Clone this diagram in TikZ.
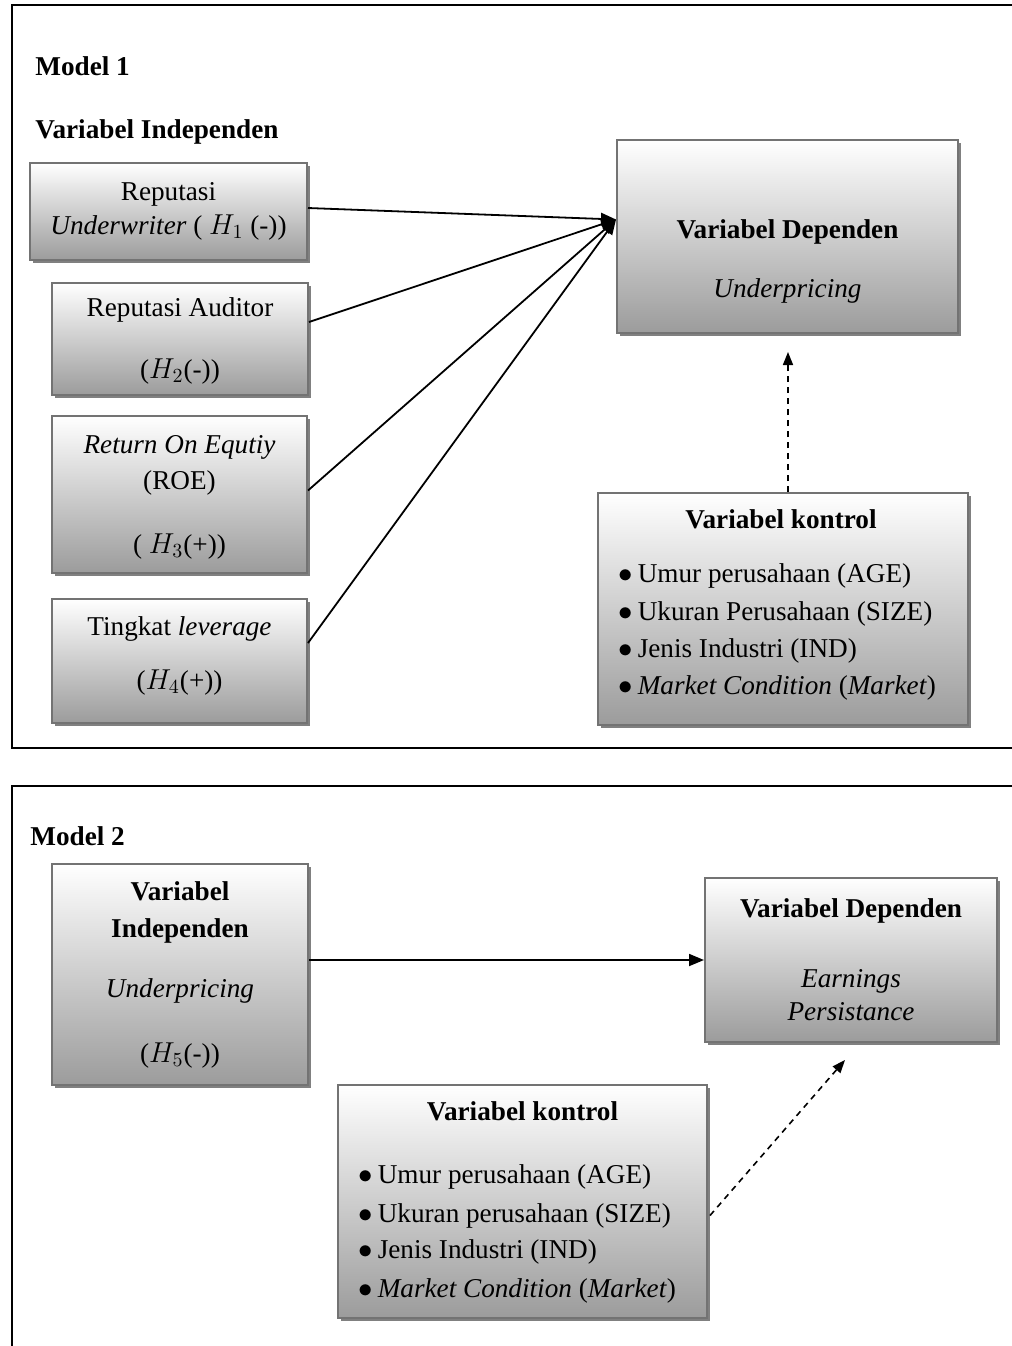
\documentclass[tikz,border=0pt]{standalone}
\usepackage{fontspec}
\setmainfont{Liberation Serif}
\usetikzlibrary{arrows.meta,shadows,calc}
\begin{document}
\begin{tikzpicture}[x=0.5pt,y=-0.5pt,
  font=\fontsize{13.6}{16}\selectfont,
  gbox/.style={draw=black!55, line width=1pt, top color=white, bottom color=black!39,
    drop shadow={shadow xshift=1.6pt, shadow yshift=-1.6pt, fill=black!50, opacity=1},
    inner sep=0pt},
  txt/.style={anchor=base, inner sep=0pt},
  lft/.style={anchor=base west, inner sep=0pt},
  frameline/.style={line width=1.2pt, black},
  solidarr/.style={line width=0.9pt, -{Triangle[length=7.5pt,width=6pt]}},
  dasharr/.style={line width=0.8pt, dash pattern=on 3pt off 2.5pt, -{Triangle[length=6.5pt,width=5pt]}}
]
\useasboundingbox (0,0) rectangle (1012,1346);

% frames
\draw[frameline] (1012,5) -- (12,5) -- (12,748) -- (1012,748);
\draw[frameline] (1012,786) -- (12,786) -- (12,1346);

% ---------------- Model 1 ----------------
\node[lft,font=\fontsize{13.6}{16}\selectfont\bfseries] (m1) at (35,75) {Model 1};
\node[lft,font=\fontsize{13.6}{16}\selectfont\bfseries] (vi) at (35,138) {Variabel Independen};

\node[gbox, minimum width=138.5pt, minimum height=48.5pt] (A) at (168.5,211.5) {};
\node[txt] (a1) at (168.5,200) {Reputasi};
\node[txt] (a2) at (168.5,234) {\textit{Underwriter} ( $H_1$ (-))};

\node[gbox, minimum width=128pt, minimum height=56pt] (B) at (180,339) {};
\node[txt] (b1) at (180,316) {Reputasi Auditor};
\node[txt] (b2) at (180,378) {($H_2$(-))};

\node[gbox, minimum width=127.5pt, minimum height=78.5pt] (C) at (179.5,494.5) {};
\node[txt] (c1) at (179.5,453) {\textit{Return On Equtiy}};
\node[txt] (c2) at (179.5,489) {(ROE)};
\node[txt] (c3) at (179.5,553) {( $H_3$(+))};

\node[gbox, minimum width=127.5pt, minimum height=62pt] (D) at (179.5,661) {};
\node[txt] (d1) at (179.5,635) {Tingkat \textit{leverage}};
\node[txt] (d2) at (179.5,689) {($H_4$(+))};

\node[gbox, minimum width=170.5pt, minimum height=96.5pt] (dep1) at (787.5,236.5) {};
\node[txt,font=\fontsize{13.6}{16}\selectfont\bfseries] (e1) at (787.5,238) {Variabel Dependen};
\node[txt] (e2) at (787.5,297) {\textit{Underpricing}};

\node[gbox, minimum width=185pt, minimum height=116pt] (k1) at (783,609) {};
\node[txt,font=\fontsize{13.6}{16}\selectfont\bfseries] (k1t) at (781,528) {Variabel kontrol};
\node[lft] (k1a) at (618,582) {$\bullet$\hspace{2.5pt}Umur perusahaan (AGE)};
\node[lft] (k1b) at (618,620) {$\bullet$\hspace{2.5pt}Ukuran Perusahaan (SIZE)};
\node[lft] (k1c) at (618,657) {$\bullet$\hspace{2.5pt}Jenis Industri (IND)};
\node[lft] (k1d) at (618,694) {$\bullet$\hspace{2.5pt}\textit{Market Condition} (\textit{Market})};

\coordinate (conv) at ($(dep1.west)+(0,-17)$);
\draw[solidarr] ($(A.east)+(0,-3.5)$) -- (conv);
\draw[solidarr] ($(B.east)+(0,-17)$) -- (conv);
\draw[solidarr] ($(C.east)+(0,-4)$) -- (conv);
\draw[solidarr] ($(D.east)+(0,-18)$) -- (conv);

\coordinate (d1end) at (788,352);
\draw[dasharr] (k1.north -| d1end) -- (d1end);

% ---------------- Model 2 ----------------
\node[lft,font=\fontsize{13.6}{16}\selectfont\bfseries] (m2) at (30,845) {Model 2};

\node[gbox, minimum width=128pt, minimum height=110.5pt] (in2) at (180,974.5) {};
\node[txt,font=\fontsize{13.6}{16}\selectfont\bfseries] (i1) at (180,900) {Variabel};
\node[txt,font=\fontsize{13.6}{16}\selectfont\bfseries] (i2) at (180,937) {Independen};
\node[txt] (i3) at (180,997) {\textit{Underpricing}};
\node[txt] (i4) at (180,1062) {($H_5$(-))};

\node[gbox, minimum width=146pt, minimum height=82pt] (dep2) at (851,960) {};
\node[txt,font=\fontsize{13.6}{16}\selectfont\bfseries] (f1) at (851,917) {Variabel Dependen};
\node[txt] (f2) at (851,987) {\textit{Earnings}};
\node[txt] (f3) at (851,1020) {\textit{Persistance}};

\node[gbox, minimum width=184.5pt, minimum height=116.5pt] (k2) at (522.5,1201.5) {};
\node[txt,font=\fontsize{13.6}{16}\selectfont\bfseries] (k2t) at (522.5,1120) {Variabel kontrol};
\node[lft] (k2a) at (358,1183) {$\bullet$\hspace{2.5pt}Umur perusahaan (AGE)};
\node[lft] (k2b) at (358,1222) {$\bullet$\hspace{2.5pt}Ukuran perusahaan (SIZE)};
\node[lft] (k2c) at (358,1258) {$\bullet$\hspace{2.5pt}Jenis Industri (IND)};
\node[lft] (k2d) at (358,1297) {$\bullet$\hspace{2.5pt}\textit{Market Condition} (\textit{Market})};

\draw[solidarr] (in2.east |- dep2.west) -- (dep2.west);

\coordinate (d2end) at (845,1060);
\draw[dasharr] ($(k2.east)+(2,14)$) -- (d2end);

\end{tikzpicture}
\end{document}
